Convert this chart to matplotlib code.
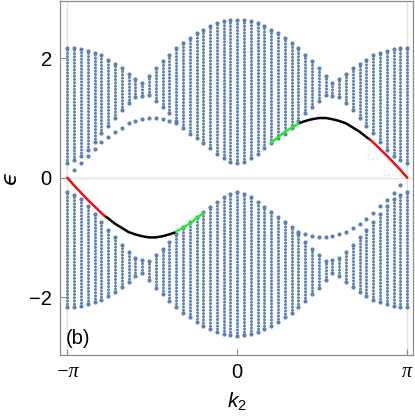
import numpy as np
import matplotlib
matplotlib.use("Agg")
from matplotlib import pyplot as plt

plt.rcParams['font.family'] = ['Liberation Sans', 'DejaVu Sans']
plt.rcParams['mathtext.fontset'] = 'custom'
plt.rcParams['mathtext.rm'] = 'Liberation Sans'
plt.rcParams['mathtext.it'] = 'Liberation Sans:italic'

# k2 sampling columns (51 points from -pi to pi)
k_cols = np.arange(-25, 26) * np.pi / 25

# upper bulk band edges read per column (lower band is -upper)
band_top = [2.17, 2.17, 2.15, 2.12, 2.09, 2.05, 1.98, 1.91, 1.83, 1.74, 1.65, 1.59, 1.71,
            1.84, 1.95, 2.06, 2.17, 2.26, 2.34, 2.42, 2.48, 2.54, 2.59, 2.62, 2.64, 2.65,
            2.64, 2.62, 2.59, 2.54, 2.48, 2.42, 2.34, 2.26, 2.17, 2.06, 1.95, 1.84, 1.71,
            1.59, 1.65, 1.74, 1.83, 1.91, 1.98, 2.05, 2.09, 2.12, 2.15, 2.17, 2.17]
band_bot = [0.24, 0.29, 0.36, 0.47, 0.60, 0.75, 0.87, 1.00, 1.13, 1.25, 1.35, 1.37, 1.39,
            1.29, 1.19, 1.08, 0.95, 0.83, 0.74, 0.66, 0.58, 0.49, 0.40, 0.33, 0.27, 0.24,
            0.27, 0.33, 0.40, 0.49, 0.58, 0.66, 0.74, 0.83, 0.95, 1.08, 1.19, 1.29, 1.39,
            1.37, 1.35, 1.25, 1.13, 1.00, 0.87, 0.75, 0.60, 0.47, 0.36, 0.29, 0.24]

# isolated edge-state dots (upper branch, k<0); lower branch is k->-k, e->-e
dot_k = [-0.96, -0.92, -0.88, -0.84, -0.80, -0.76, -0.72, -0.68, -0.64, -0.60,
         -0.56, -0.52, -0.48, -0.44, -0.40, -0.36]
dot_e = [0.13, 0.25, 0.37, 0.48, 0.59, 0.69, 0.77, 0.84, 0.91, 0.95,
         0.98, 1.00, 1.00, 0.98, 0.95, 0.91]

# coloured edge curve (k in units of pi, k>0 branch; k<0 branch is k->-k, e->-e)
green_k = [0.20, 0.24, 0.28, 0.32, 0.37]
green_e = [0.59, 0.68, 0.77, 0.84, 0.92]
black_k = [0.37, 0.40, 0.44, 0.48, 0.52, 0.56, 0.60, 0.64, 0.68, 0.72, 0.76, 0.78]
black_e = [0.92, 0.95, 0.98, 1.00, 1.00, 0.98, 0.95, 0.91, 0.84, 0.77, 0.68, 0.64]
red_k = [0.78, 0.80, 0.84, 0.88, 0.92, 0.96, 1.00]
red_e = [0.64, 0.59, 0.48, 0.37, 0.25, 0.13, 0.00]

blue = '#5E81B5'
grey = '#8c8c8c'

fig = plt.figure(figsize=(4.15, 4.19), dpi=100)
ax = fig.add_axes([0.1446, 0.1527, 0.8506, 0.8449])

# light guide lines
ax.axhline(0, color='#e3e3e3', lw=1.0, zorder=0)
ax.axvline(-np.pi, color='#e3e3e3', lw=1.0, zorder=0)
ax.axvline(np.pi, color='#e3e3e3', lw=1.0, zorder=0)

# bulk bands: each column drawn as a dotted segment plus edge dots
for k, t, b in zip(k_cols, band_top, band_bot):
    for lo, hi in ((b, t), (-t, -b)):
        ax.plot([k, k], [lo, hi], color=blue, lw=2.2, linestyle=(0, (0.01, 1.05)),
                dash_capstyle='round', zorder=2)
        ax.plot([k, k], [lo, hi], 'o', color=blue, ms=3.0, mew=0, zorder=2)

dk = np.array(dot_k) * np.pi
de = np.array(dot_e)
ax.plot(dk, de, 'o', color=blue, ms=3.0, mew=0, zorder=2)
ax.plot(-dk, -de, 'o', color=blue, ms=3.0, mew=0, zorder=2)

for kk, ee, c in ((green_k, green_e, '#22ee22'), (black_k, black_e, 'black'),
                  (red_k, red_e, '#ee1111')):
    kk = np.array(kk) * np.pi
    ee = np.array(ee)
    ax.plot(kk, ee, color=c, lw=1.8, solid_capstyle='round', zorder=3)
    ax.plot(-kk, -ee, color=c, lw=1.8, solid_capstyle='round', zorder=3)

ax.set_xlim(-3.277, 3.248)
ax.set_ylim(-2.97, 2.96)

ax.set_xticks([-np.pi, 0, np.pi])
ax.set_xticklabels(['\u2212\u03c0', '0', '\u03c0'])
for lab in (ax.get_xticklabels()[0], ax.get_xticklabels()[2]):
    lab.set_fontfamily('Liberation Serif')
    lab.set_fontstyle('italic')
ax.set_yticks([-2, 0, 2])
ax.set_yticklabels(['\u22122', '0', '2'])
ax.tick_params(direction='in', length=4.5, width=0.8, color=grey, labelsize=14.5, pad=6)

for s in ax.spines.values():
    s.set_color(grey)
    s.set_linewidth(0.9)

ax.set_xlabel(r'$k_2$', fontsize=15, labelpad=6)
ax.set_ylabel('\u03f5', fontsize=16, labelpad=6, family=['DejaVu Sans'], style='italic')
ax.text(0.015, 0.03, '(b)', transform=ax.transAxes, fontsize=14.5)

fig.savefig('out.png', dpi=100)
